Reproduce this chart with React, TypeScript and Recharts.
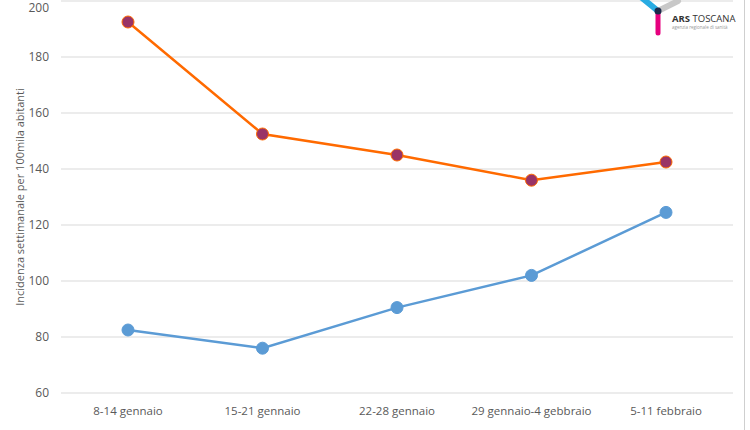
import React from "react"
import { LineChart, Line, XAxis, YAxis, CartesianGrid, Label } from "recharts"

const categories = ["8-14 gennaio", "15-21 gennaio", "22-28 gennaio", "29 gennaio-4 gebbraio", "5-11 febbraio"]
const seriesA = [192.5, 152.5, 145, 136, 142.5]
const seriesB = [82.5, 76, 90.5, 102, 124.5]
const yTicks = [60, 80, 100, 120, 140, 160, 180, 200]

const data = categories.map((c, i) => ({ name: c, a: seriesA[i], b: seriesB[i] }))

const font = "'Open Sans', 'Liberation Sans', sans-serif"

function Logo() {
    return (
        <svg width={120} height={40} style={{ position: "absolute", left: 630, top: 0 }}>
            <line x1={12} y1={-2} x2={28} y2={11} stroke="#29abe2" strokeWidth={6} strokeLinecap="round" />
            <line x1={48} y1={1} x2={28} y2={11} stroke="#c8c8c8" strokeWidth={6} strokeLinecap="round" />
            <line x1={28} y1={11} x2={28} y2={33} stroke="#e6007e" strokeWidth={5} strokeLinecap="round" />
            <circle cx={28} cy={11} r={3.5} fill="#1b2a4a" />
            <text x={42} y={22} fontFamily={font} fontSize={9.5} fontWeight={700} fill="#333">
                ARS <tspan fontWeight={400}>TOSCANA</tspan>
            </text>
            <text x={42} y={29} fontFamily={font} fontSize={4.5} fill="#999">agenzia regionale di sanità</text>
        </svg>
    )
}

export default function App() {
    return (
        <div style={{ position: "absolute", left: 0, top: 0, width: 750, height: 430, background: "#fff", overflow: "hidden" }}>
            <div style={{ position: "absolute", left: 744, top: 0, width: 1, height: 430, background: "#cfcfcf" }} />
            <LineChart width={744} height={430} data={data} margin={{ top: 1, right: 11, left: 0, bottom: 0 }}>
                <CartesianGrid vertical={false} stroke="#d9d9d9" />
                <XAxis
                    dataKey="name"
                    axisLine={false}
                    tickLine={false}
                    height={37}
                    tickSize={0}
                    tickMargin={14}
                    padding={{ left: 67, right: 67 }}
                    tick={{ fill: "#595959", fontSize: 11.5, fontFamily: font }}
                    interval={0}
                />
                <YAxis
                    domain={[60, 200]}
                    ticks={yTicks}
                    axisLine={false}
                    tickLine={false}
                    width={61}
                    tickSize={0}
                    tickMargin={12}
                    tick={{ fill: "#595959", fontSize: 12, fontFamily: font }}
                >
                    <Label
                        value="Incidenza settimanale per 100mila abitanti"
                        angle={-90}
                        position="insideLeft"
                        offset={20}
                        style={{ textAnchor: "middle", fill: "#595959", fontSize: 11, fontFamily: font }}
                    />
                </YAxis>
                <Line
                    dataKey="a"
                    stroke="#ff6a00"
                    strokeWidth={2.5}
                    dot={{ r: 6, fill: "#993366", stroke: "#ff6a00", strokeWidth: 1 }}
                    isAnimationActive={false}
                />
                <Line
                    dataKey="b"
                    stroke="#5b9bd5"
                    strokeWidth={2.5}
                    dot={{ r: 6, fill: "#5b9bd5", stroke: "#5b9bd5", strokeWidth: 1 }}
                    isAnimationActive={false}
                />
            </LineChart>
            <Logo />
        </div>
    )
}
